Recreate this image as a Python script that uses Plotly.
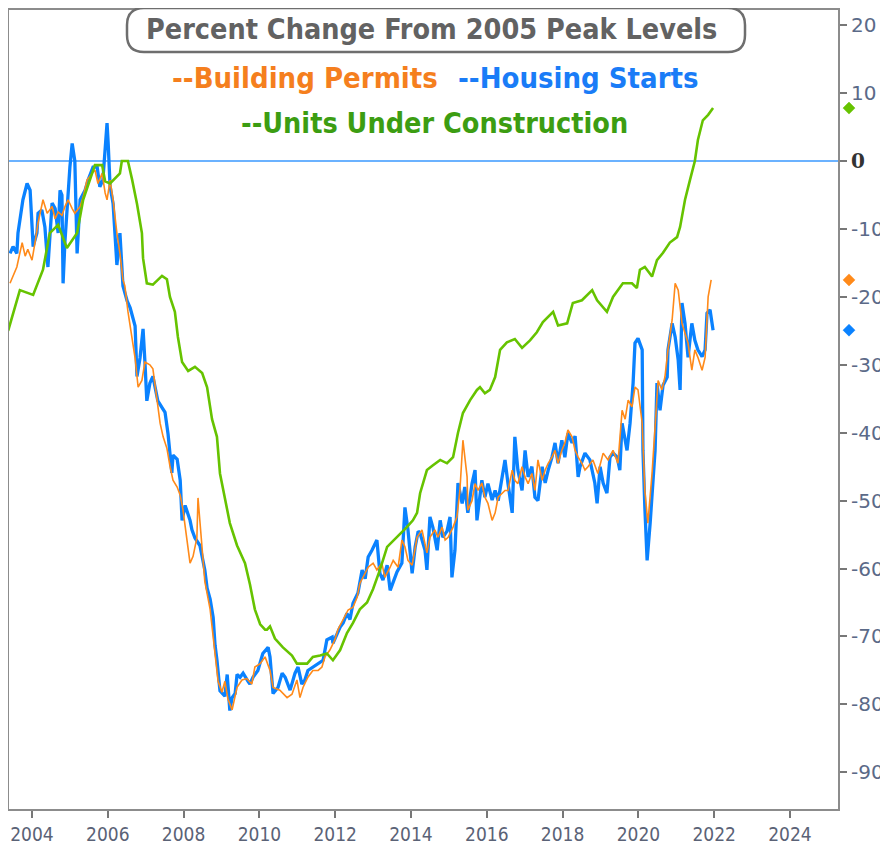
import plotly.graph_objects as go

# ---------------- data (decimal years, % change from 2005 peak) ----------------
hs_year = [2003.42, 2003.50, 2003.60, 2003.63, 2003.76, 2003.87, 2003.95, 2004.00, 2004.03, 2004.13,
           2004.16, 2004.26, 2004.34, 2004.42, 2004.47, 2004.53, 2004.61, 2004.69, 2004.74, 2004.79,
           2004.82, 2004.87, 2005.00, 2005.06, 2005.13, 2005.19, 2005.27, 2005.40, 2005.48, 2005.61,
           2005.72, 2005.79, 2005.87, 2005.98, 2006.01, 2006.06, 2006.14, 2006.19, 2006.24, 2006.32,
           2006.40, 2006.51, 2006.59, 2006.72, 2006.77, 2006.85, 2006.93, 2006.98, 2007.03, 2007.11,
           2007.19, 2007.32, 2007.51, 2007.59, 2007.64, 2007.69, 2007.72, 2007.83, 2007.91, 2007.96,
           2008.04, 2008.17, 2008.22, 2008.30, 2008.43, 2008.49, 2008.56, 2008.62, 2008.70, 2008.78,
           2008.83, 2008.88, 2008.96, 2009.09, 2009.15, 2009.22, 2009.28, 2009.36, 2009.41, 2009.49,
           2009.57, 2009.70, 2009.75, 2009.83, 2009.96, 2010.09, 2010.23, 2010.28, 2010.36, 2010.49,
           2010.60, 2010.68, 2010.81, 2010.94, 2011.02, 2011.12, 2011.20, 2011.28, 2011.41, 2011.55,
           2011.68, 2011.78, 2011.92, 2011.94, 2012.05, 2012.13, 2012.21, 2012.31, 2012.39, 2012.47,
           2012.60, 2012.71, 2012.79, 2012.87, 2012.97, 2013.10, 2013.18, 2013.26, 2013.37, 2013.45,
           2013.53, 2013.63, 2013.76, 2013.84, 2013.92, 2014.03, 2014.11, 2014.19, 2014.24, 2014.37,
           2014.42, 2014.50, 2014.58, 2014.69, 2014.77, 2014.84, 2014.95, 2015.03, 2015.08, 2015.16,
           2015.24, 2015.35, 2015.42, 2015.50, 2015.61, 2015.69, 2015.74, 2015.87, 2015.95, 2016.03,
           2016.14, 2016.22, 2016.30, 2016.40, 2016.48, 2016.56, 2016.67, 2016.74, 2016.82, 2016.93,
           2017.01, 2017.09, 2017.19, 2017.27, 2017.35, 2017.46, 2017.54, 2017.62, 2017.72, 2017.80,
           2017.88, 2017.98, 2018.06, 2018.14, 2018.25, 2018.33, 2018.41, 2018.46, 2018.59, 2018.72,
           2018.85, 2018.91, 2018.99, 2019.07, 2019.17, 2019.25, 2019.33, 2019.44, 2019.51, 2019.57,
           2019.65, 2019.70, 2019.78, 2019.86, 2019.91, 2019.99, 2020.10, 2020.12, 2020.17, 2020.23,
           2020.31, 2020.39, 2020.44, 2020.49, 2020.57, 2020.65, 2020.76, 2020.78, 2020.89, 2020.97,
           2021.05, 2021.10, 2021.15, 2021.23, 2021.31, 2021.41, 2021.49, 2021.57, 2021.68, 2021.76,
           2021.81, 2021.89, 2021.97]
hs_val = [-13.6, -12.6, -13.6, -10.6, -5.7, -3.3, -4.3, -10.6, -12.6, -10.6,
          -7.7, -7.2, -9.7, -15.6, -11.0, -6.2, -7.0, -10.6, -4.3, -5.0,
          -18.0, -11.8, -0.9, 2.6, 0.0, -13.6, -5.7, -4.3, -2.8, -0.9,
          -0.9, -3.8, -2.8, 5.6, 2.6, -3.7, -6.3, -11.6, -15.3, -10.6,
          -18.4, -20.6, -21.6, -24.3, -31.7, -29.0, -24.7, -29.6, -35.3, -32.7,
          -31.7, -35.3, -37.0, -40.2, -42.7, -45.9, -43.3, -43.9, -47.0, -52.9,
          -50.7, -52.9, -54.3, -55.5, -56.6, -58.2, -60.2, -62.9, -64.5, -67.2,
          -71.3, -73.5, -78.0, -78.8, -75.6, -80.9, -79.0, -78.4, -75.6, -76.0,
          -75.4, -76.6, -77.0, -76.0, -75.0, -72.5, -71.6, -73.0, -78.4, -77.5,
          -75.4, -76.0, -77.9, -75.4, -74.5, -77.0, -76.4, -75.0, -74.5, -73.9,
          -73.5, -70.5, -70.1, -71.0, -69.5, -68.6, -68.0, -66.6, -67.5, -65.1,
          -63.6, -60.2, -61.5, -58.3, -57.3, -55.8, -60.7, -61.7, -59.5, -63.2,
          -62.0, -60.5, -59.2, -51.0, -54.3, -60.7, -56.8, -54.5, -54.8, -57.3,
          -60.2, -52.4, -54.0, -57.3, -52.9, -55.4, -54.5, -52.4, -61.3, -57.3,
          -47.4, -50.4, -48.0, -51.8, -47.5, -45.5, -52.9, -47.0, -49.5, -47.5,
          -49.9, -48.5, -50.0, -46.5, -44.0, -47.5, -51.8, -40.6, -45.5, -48.5,
          -42.6, -46.5, -45.0, -49.5, -50.0, -45.0, -47.4, -45.5, -43.6, -41.5,
          -44.5, -41.1, -43.6, -40.1, -41.5, -40.5, -46.5, -45.0, -43.0, -44.0,
          -47.4, -50.4, -45.0, -47.4, -48.9, -43.6, -43.0, -43.6, -45.5, -38.6,
          -41.5, -42.6, -38.6, -32.7, -26.8, -26.1, -27.8, -42.6, -51.0, -58.8,
          -53.3, -46.0, -42.6, -32.7, -36.7, -33.0, -31.8, -27.8, -23.9, -25.9,
          -29.3, -33.7, -20.9, -23.9, -28.9, -23.9, -26.4, -27.8, -28.8, -27.8,
          -22.4, -21.9, -24.9]

bp_year = [2003.42, 2003.60, 2003.74, 2003.82, 2003.89, 2004.00, 2004.08, 2004.16, 2004.29, 2004.40,
           2004.53, 2004.61, 2004.69, 2004.79, 2004.87, 2004.95, 2005.06, 2005.13, 2005.27, 2005.35,
           2005.45, 2005.58, 2005.66, 2005.74, 2005.85, 2005.93, 2005.98, 2006.06, 2006.14, 2006.24,
           2006.32, 2006.40, 2006.45, 2006.53, 2006.64, 2006.72, 2006.80, 2006.90, 2006.98, 2007.11,
           2007.19, 2007.30, 2007.38, 2007.46, 2007.56, 2007.64, 2007.72, 2007.83, 2007.91, 2007.98,
           2008.09, 2008.17, 2008.25, 2008.35, 2008.38, 2008.49, 2008.56, 2008.70, 2008.83, 2008.91,
           2009.01, 2009.09, 2009.17, 2009.28, 2009.41, 2009.54, 2009.67, 2009.80, 2009.88, 2010.02,
           2010.15, 2010.28, 2010.36, 2010.54, 2010.73, 2010.86, 2010.99, 2011.07, 2011.15, 2011.28,
           2011.41, 2011.55, 2011.65, 2011.73, 2011.86, 2011.99, 2012.07, 2012.21, 2012.34, 2012.47,
           2012.58, 2012.65, 2012.73, 2012.87, 2013.00, 2013.10, 2013.23, 2013.31, 2013.45, 2013.53,
           2013.66, 2013.76, 2013.84, 2013.92, 2014.03, 2014.16, 2014.29, 2014.42, 2014.50, 2014.63,
           2014.71, 2014.82, 2014.90, 2014.98, 2015.11, 2015.21, 2015.29, 2015.37, 2015.48, 2015.50,
           2015.61, 2015.69, 2015.77, 2015.87, 2015.95, 2016.03, 2016.14, 2016.22, 2016.30, 2016.40,
           2016.48, 2016.56, 2016.67, 2016.74, 2016.82, 2016.93, 2017.01, 2017.09, 2017.19, 2017.27,
           2017.35, 2017.46, 2017.54, 2017.62, 2017.72, 2017.80, 2017.88, 2017.98, 2018.06, 2018.14,
           2018.25, 2018.33, 2018.41, 2018.51, 2018.59, 2018.67, 2018.80, 2018.93, 2019.07, 2019.20,
           2019.33, 2019.46, 2019.57, 2019.65, 2019.73, 2019.83, 2019.91, 2019.99, 2020.10, 2020.17,
           2020.25, 2020.36, 2020.44, 2020.52, 2020.62, 2020.70, 2020.78, 2020.89, 2020.97, 2021.05,
           2021.15, 2021.23, 2021.31, 2021.41, 2021.49, 2021.57, 2021.68, 2021.76, 2021.84, 2021.92]
bp_val = [-18.0, -15.6, -12.0, -14.0, -13.0, -14.6, -12.0, -9.1, -5.7, -7.7,
          -6.7, -8.5, -7.5, -8.0, -6.7, -5.7, -7.0, -7.7, -6.7, -5.3,
          -2.8, -1.8, -1.3, -3.3, -1.8, -4.7, -5.7, -2.8, -5.7, -10.6,
          -13.6, -17.5, -18.4, -22.1, -25.9, -29.0, -33.3, -32.3, -29.6, -30.0,
          -30.6, -35.3, -38.6, -40.6, -42.3, -44.9, -47.0, -48.0, -49.2, -51.2,
          -55.5, -59.2, -58.2, -55.5, -49.6, -57.6, -61.9, -66.0, -72.5, -76.6,
          -78.2, -76.6, -79.2, -80.8, -77.5, -76.4, -76.2, -77.0, -74.5, -74.0,
          -73.0, -75.0, -77.5, -77.9, -79.0, -78.5, -76.4, -79.0, -77.5, -76.0,
          -75.0, -75.0, -74.5, -73.0, -72.0, -70.5, -69.0, -67.6, -66.1, -65.7,
          -64.2, -62.2, -61.3, -59.8, -59.2, -60.2, -59.2, -61.3, -59.8, -58.8,
          -59.8, -55.8, -56.8, -58.8, -59.5, -55.4, -54.3, -57.7, -55.4, -54.3,
          -55.4, -53.9, -55.8, -55.4, -53.9, -52.4, -48.5, -41.1, -46.5, -51.4,
          -50.0, -47.5, -48.5, -47.4, -49.5, -50.4, -52.9, -51.8, -49.5, -48.9,
          -48.5, -48.5, -45.5, -47.0, -47.5, -45.0, -46.5, -47.5, -46.0, -48.5,
          -44.0, -47.0, -45.5, -44.5, -43.6, -42.6, -44.5, -42.6, -41.5, -39.6,
          -40.6, -42.6, -43.6, -44.5, -45.5, -45.0, -44.0, -46.0, -43.0, -44.0,
          -42.6, -44.5, -36.7, -38.0, -35.2, -36.2, -33.3, -33.7, -38.6, -48.5,
          -53.3, -46.0, -38.6, -32.3, -33.7, -31.8, -27.8, -23.4, -18.0, -19.0,
          -23.9, -25.3, -26.8, -30.8, -27.8, -28.9, -30.8, -28.9, -20.0, -17.5]

uc_year = [2003.37, 2003.68, 2004.03, 2004.29, 2004.47, 2004.69, 2004.92, 2005.19, 2005.35, 2005.53,
           2005.66, 2005.85, 2005.93, 2006.06, 2006.32, 2006.37, 2006.53, 2006.64, 2006.77, 2006.90,
           2006.93, 2007.03, 2007.19, 2007.43, 2007.56, 2007.64, 2007.77, 2007.85, 2007.96, 2008.12,
           2008.30, 2008.49, 2008.62, 2008.75, 2008.88, 2008.96, 2009.09, 2009.22, 2009.41, 2009.62,
           2009.75, 2009.88, 2010.02, 2010.15, 2010.20, 2010.28, 2010.41, 2010.62, 2010.86, 2010.99,
           2011.26, 2011.41, 2011.60, 2011.78, 2011.94, 2012.13, 2012.31, 2012.47, 2012.65, 2012.84,
           2013.00, 2013.18, 2013.37, 2013.63, 2013.89, 2014.05, 2014.16, 2014.24, 2014.42, 2014.58,
           2014.77, 2014.95, 2015.11, 2015.24, 2015.37, 2015.56, 2015.74, 2015.82, 2015.95, 2016.08,
           2016.22, 2016.35, 2016.53, 2016.74, 2016.93, 2017.14, 2017.32, 2017.48, 2017.75, 2017.88,
           2018.12, 2018.27, 2018.51, 2018.78, 2018.91, 2019.17, 2019.33, 2019.59, 2019.83, 2019.96,
           2020.04, 2020.17, 2020.36, 2020.49, 2020.65, 2020.83, 2021.02, 2021.10, 2021.23, 2021.36,
           2021.49, 2021.57, 2021.70, 2021.84, 2021.97]
uc_val = [-25.0, -19.0, -19.7, -16.0, -10.6, -9.4, -12.8, -10.6, -5.7, -2.8,
          -0.6, -0.6, -3.0, -3.3, -1.8, 0.0, 0.0, -2.7, -6.3, -10.6,
          -14.3, -18.0, -18.2, -16.9, -17.4, -20.0, -22.2, -25.9, -29.6, -30.9,
          -30.3, -31.2, -33.3, -38.0, -40.6, -46.0, -49.6, -53.3, -56.6, -59.2,
          -62.3, -66.0, -68.2, -69.0, -69.0, -68.5, -70.3, -71.6, -72.8, -74.0,
          -74.0, -73.0, -72.8, -72.5, -73.5, -72.0, -69.5, -68.0, -66.0, -65.0,
          -63.0, -60.2, -56.8, -55.4, -53.9, -52.9, -51.8, -48.9, -45.5, -44.8,
          -44.0, -44.5, -43.6, -40.0, -37.1, -35.2, -33.7, -33.3, -34.2, -33.7,
          -31.8, -27.8, -26.7, -26.2, -27.5, -26.4, -25.2, -23.7, -22.2, -24.2,
          -23.9, -20.9, -20.5, -19.0, -20.5, -22.2, -20.0, -18.0, -18.0, -18.7,
          -16.0, -15.6, -17.0, -14.6, -13.5, -12.0, -11.2, -9.7, -5.7, -2.8,
          0.0, 3.1, 6.0, 6.8, 7.8]

x_ticks = [2004, 2006, 2008, 2010, 2012, 2014, 2016, 2018, 2020, 2022, 2024]
y_ticks = [20, 10, 0, -10, -20, -30, -40, -50, -60, -70, -80, -90]

# ---------------- styling ----------------
C_HS, C_BP, C_UC = "#0a82ff", "#ff8a1a", "#66c300"
T_HS, T_BP, T_UC = "#1a7cf7", "#f57f1e", "#3c9d12"
AXIS_GREY = "#8c8c8c"
TICK_COL = "#5b6a88"
COND = "DejaVu Sans Condensed, Liberation Sans, sans-serif"

# the page body adds an 8 px offset; figure is sized so it ends at the window edge
OFF = 8
W, H = 880, 842
PL, PR, PT, PB = 9, 838, 10, 809          # plot box in window pixels
ML, MR, MT, MB = PL - OFF, W - (PR - OFF), PT - OFF, H - (PB - OFF)
PW, PH = PR - PL, PB - PT
Y_RANGE = [-95.4, 22.24]
UNIT_PX = PH / (Y_RANGE[1] - Y_RANGE[0])   # pixels per y unit


def px(x):
    return (x - PL) / PW


def py(y):
    return (PB - y) / PH


fig = go.Figure()
fig.add_trace(go.Scatter(x=hs_year, y=hs_val, mode="lines",
                         line=dict(color=C_HS, width=3.3), name="Housing Starts"))
fig.add_trace(go.Scatter(x=bp_year, y=bp_val, mode="lines",
                         line=dict(color=C_BP, width=1.6), name="Building Permits"))
fig.add_trace(go.Scatter(x=uc_year, y=uc_val, mode="lines",
                         line=dict(color=C_UC, width=2.6), name="Units Under Construction"))

ytext = []
for v in y_ticks:
    if v == 0:
        ytext.append('<span style="color:#333333;font-family:DejaVu Serif"><b>0</b></span>')
    else:
        ytext.append(str(v))

fig.update_layout(
    width=W, height=H,
    margin=dict(l=ML, r=MR, t=MT, b=MB, autoexpand=False),
    paper_bgcolor="white", plot_bgcolor="white",
    showlegend=False,
    xaxis=dict(range=[2004 + (PL - 32) / 37.9, 2004 + (PR - 32) / 37.9],
               tickvals=x_ticks, ticktext=[str(t) for t in x_ticks],
               ticks="outside", ticklen=7, tickwidth=1.5, tickcolor="#777777",
               showline=True, mirror=True, linecolor=AXIS_GREY, linewidth=2,
               showgrid=False, zeroline=False,
               tickfont=dict(family=COND, size=19, color="#5a6276")),
    yaxis=dict(range=Y_RANGE, side="right", tickvals=y_ticks, ticktext=ytext,
               ticks="outside", ticklen=7, tickwidth=1.5, tickcolor="#777777",
               showline=True, mirror=True, linecolor=AXIS_GREY, linewidth=2,
               showgrid=False, zeroline=False,
               tickfont=dict(family="DejaVu Sans", size=20, color=TICK_COL)),
)

# zero reference line
fig.add_shape(type="line", xref="paper", yref="y", x0=0, x1=1, y0=0, y1=0,
              line=dict(color="#3a98ff", width=1.6), layer="below")

# last-value diamonds just right of the axis (drawn as small filled shapes)
dx, dy = 6 / PW, 6 / UNIT_PX
xc = px(849)
for vals, col in ((uc_val, C_UC), (bp_val, C_BP), (hs_val, C_HS)):
    yc = vals[-1]
    fig.add_shape(type="path", xref="paper", yref="y",
                  path=f"M {xc},{yc+dy} L {xc+dx},{yc} L {xc},{yc-dy} L {xc-dx},{yc} Z",
                  fillcolor=col, line=dict(color=col, width=0.5), layer="above")

# rounded title box
L, R, T, B, r = 127, 745, 8, 52, 17
rx, ry = r / PW, r / PH
xl, xr, yt, yb = px(L), px(R), py(T), py(B)
path = (f"M {xl+rx},{yt} L {xr-rx},{yt} Q {xr},{yt} {xr},{yt-ry} "
        f"L {xr},{yb+ry} Q {xr},{yb} {xr-rx},{yb} L {xl+rx},{yb} "
        f"Q {xl},{yb} {xl},{yb+ry} L {xl},{yt-ry} Q {xl},{yt} {xl+rx},{yt} Z")
fig.add_shape(type="path", xref="paper", yref="paper", path=path,
              fillcolor="white", line=dict(color="#6e6e6e", width=2.5), layer="above")

texts = [
    ("Percent Change From 2005 Peak Levels", 431, 30, 28.5, "#626262"),
    ("--Building Permits", 305, 78, 29, T_BP),
    ("--Housing Starts", 578, 78, 29, T_HS),
    ("--Units Under Construction", 434, 124, 28.5, T_UC),
]
for txt, tx, ty, sz, col in texts:
    fig.add_annotation(x=px(tx), y=py(ty), xref="paper", yref="paper", showarrow=False,
                       xanchor="center", yanchor="middle", text=txt,
                       font=dict(family=COND, size=sz, color=col, weight="bold"))

fig.write_html("out.html")
